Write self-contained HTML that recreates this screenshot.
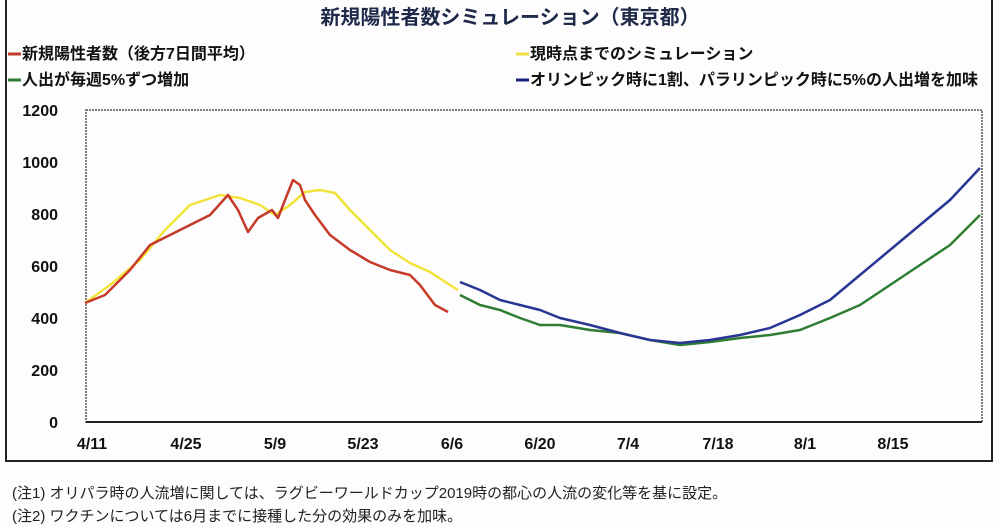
<!DOCTYPE html>
<html><head><meta charset="utf-8"><style>
body{margin:0;background:#fff;}
svg text{font-family:"Liberation Sans","Noto Sans CJK JP",sans-serif;}
</style></head><body>
<svg width="1000" height="527" viewBox="0 0 1000 527" xmlns="http://www.w3.org/2000/svg">
<rect width="1000" height="527" fill="#fdfdfd"/>
<rect x="6" y="-5" width="986" height="466" fill="none" stroke="#222" stroke-width="2"/>
<text x="510" y="24" font-size="20" font-weight="bold" fill="#1f2a4a" text-anchor="middle">新規陽性者数シミュレーション（東京都）</text>
<line x1="8" y1="54" x2="21" y2="54" stroke="#c0392b" stroke-width="3"/>
<text x="22" y="59" font-size="16" font-weight="bold" fill="#111">新規陽性者数（後方7日間平均）</text>
<line x1="8" y1="80" x2="21" y2="80" stroke="#2e7d32" stroke-width="3"/>
<text x="22" y="85" font-size="16" font-weight="bold" fill="#111">人出が毎週5%ずつ増加</text>
<line x1="516" y1="54" x2="529" y2="54" stroke="#f0e040" stroke-width="3"/>
<text x="530" y="59" font-size="16" font-weight="bold" fill="#111">現時点までのシミュレーション</text>
<line x1="516" y1="80" x2="529" y2="80" stroke="#1a237e" stroke-width="3"/>
<text x="530" y="85" font-size="16" font-weight="bold" fill="#111">オリンピック時に1割、パラリンピック時に5%の人出増を加味</text>
<rect x="86" y="110" width="896" height="312" fill="none" stroke="#555" stroke-width="1.5" stroke-dasharray="2,1"/>
<line x1="86" y1="422" x2="982" y2="422" stroke="#222" stroke-width="2"/>
<g font-size="16" font-weight="bold" fill="#111" text-anchor="end">
<text x="58" y="116">1200</text><text x="58" y="168">1000</text><text x="58" y="220">800</text>
<text x="58" y="272">600</text><text x="58" y="324">400</text><text x="58" y="376">200</text><text x="58" y="428">0</text>
</g>
<g font-size="16" font-weight="bold" fill="#111" text-anchor="middle">
<text x="92" y="449">4/11</text><text x="186" y="449">4/25</text><text x="275" y="449">5/9</text>
<text x="363" y="449">5/23</text><text x="452" y="449">6/6</text><text x="540" y="449">6/20</text>
<text x="628" y="449">7/4</text><text x="718" y="449">7/18</text><text x="805" y="449">8/1</text>
<text x="893" y="449">8/15</text>
</g>
<g fill="none" stroke-width="2.5" stroke-linejoin="round">
<polyline stroke="#f2e33a" points="85,303 110,285 140,260 165,230 190,205 220,195 240,198 260,205 275,215 290,205 305,192 320,190 335,193 350,210 370,230 390,250 410,263 430,272 450,285 458,290"/>
<polyline stroke="#c63a2a" points="85,303 105,295 130,270 150,245 170,235 190,225 210,215 228,195 238,210 248,232 258,218 272,210 278,218 285,200 293,180 300,185 305,200 315,215 330,235 350,250 370,262 390,270 410,275 420,285 435,305 448,312"/>
<polyline stroke="#2e7d32" points="460,295 480,305 500,310 520,318 540,325 560,325 590,330 620,333 650,340 680,345 710,342 740,338 770,335 800,330 830,318 860,305 890,285 920,265 950,245 980,215"/>
<polyline stroke="#283593" points="460,282 480,290 500,300 520,305 540,310 560,318 590,325 620,333 650,340 680,343 710,340 740,335 770,328 800,315 830,300 860,275 890,250 920,225 950,200 980,168"/>
</g>
<text x="12" y="498" font-size="15" fill="#222">(注1) オリパラ時の人流増に関しては、ラグビーワールドカップ2019時の都心の人流の変化等を基に設定。</text>
<text x="12" y="521" font-size="15" fill="#222">(注2) ワクチンについては6月までに接種した分の効果のみを加味。</text>
</svg>
</body></html>
